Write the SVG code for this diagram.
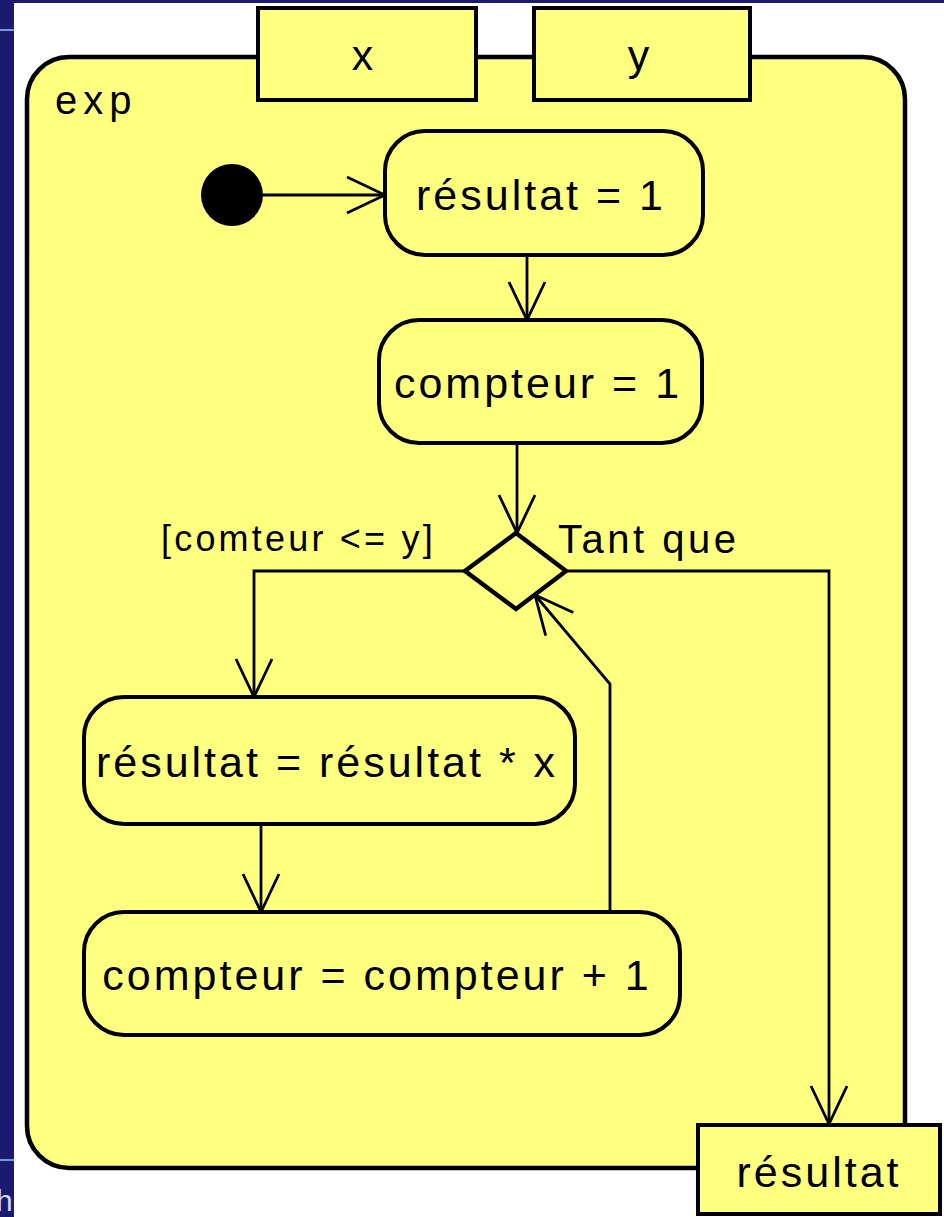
<svg xmlns="http://www.w3.org/2000/svg" width="944" height="1217" viewBox="0 0 944 1217">
  <style>
    .box { fill: #ffff80; stroke: #000; stroke-width: 4; }
    .frame { fill: #ffff80; stroke: #000; stroke-width: 4.5; }
    .pin { fill: #ffff80; stroke: #000; stroke-width: 4; }
    .edge { fill: none; stroke: #000; stroke-width: 2.8; marker-end: url(#open); }
    .lbl { font-family: "Liberation Sans", Arial, Helvetica, sans-serif; fill: #000; }
    .act { font-size: 43px; letter-spacing: 3px; text-anchor: middle; }
    .guard { font-size: 36px; letter-spacing: 3.2px; }
  </style>
  <defs>
    <marker id="open" markerUnits="userSpaceOnUse" markerWidth="46" markerHeight="46" viewBox="-44 -23 46 46" refX="0" refY="0" orient="auto">
      <path d="M-38,-18 L0,0 L-38,18" fill="none" stroke="#000" stroke-width="2.8"/>
    </marker>
    <clipPath id="strip">
      <rect x="0" y="0" width="14" height="1217"/>
    </clipPath>
  </defs>

  <!-- page background and slide edge -->
  <rect x="0" y="0" width="944" height="1217" fill="#ffffff"/>
  <rect x="0" y="0" width="944" height="3" fill="#1a1a6e"/>
  <rect x="0" y="0" width="14" height="1217" fill="#1a1a6e"/>
  <rect x="0" y="29" width="14" height="2" fill="#6f9fd8"/>
  <rect x="0" y="1159" width="14" height="2" fill="#6f9fd8"/>
  <text x="-4" y="1211" clip-path="url(#strip)" font-family="'Liberation Sans', Arial, sans-serif" font-size="30" fill="#d4d8ee">he</text>

  <!-- activity frame -->
  <g id="activity-exp">
    <rect class="frame" x="27" y="57" width="878" height="1111" rx="42" ry="42"/>
    <text class="lbl" x="55" y="114" font-size="40" letter-spacing="6">exp</text>
  </g>

  <!-- parameter pins -->
  <g id="pin-x">
    <rect class="pin" x="258" y="8" width="218" height="92"/>
    <text class="lbl act" x="364" y="70">x</text>
  </g>
  <g id="pin-y">
    <rect class="pin" x="534" y="8" width="216" height="92"/>
    <text class="lbl act" x="640" y="70">y</text>
  </g>

  <!-- initial node -->
  <g id="initial">
    <circle cx="232" cy="195" r="31" fill="#000"/>
  </g>

  <!-- actions -->
  <g id="init-resultat">
    <rect class="box" x="385" y="131" width="318" height="124" rx="40" ry="40"/>
    <text class="lbl act" x="541" y="210">résultat = 1</text>
  </g>
  <g id="init-compteur">
    <rect class="box" x="379" y="320" width="323" height="123" rx="40" ry="40"/>
    <text class="lbl act" x="538" y="398">compteur = 1</text>
  </g>

  <g id="decision">
    <polygon points="516,533 566,571 516,609 465,571" fill="#ffff80" stroke="#000" stroke-width="4.5" stroke-linejoin="miter"/>
  </g>

  <g id="mult-resultat">
    <rect class="box" x="84" y="697" width="491" height="127" rx="40" ry="40"/>
    <text class="lbl act" x="327" y="777">résultat = résultat * x</text>
  </g>
  <g id="incr-compteur">
    <rect class="box" x="84" y="912" width="596" height="123" rx="40" ry="40"/>
    <text class="lbl act" x="377" y="990">compteur = compteur + 1</text>
  </g>

  <!-- connectors -->
  <g id="connectors">
    <path class="edge" d="M263,195 H385"/>
    <path class="edge" d="M527,255 V320"/>
    <path class="edge" d="M517,443 V533"/>
    <path class="edge" d="M465,571 H254 V697"/>
    <path class="edge" d="M566,571 H829 V1124"/>
    <path class="edge" d="M261,824 V912"/>
    <path class="edge" d="M610,912 V684 L535,595"/>
    <text class="lbl guard" x="161" y="551">[comteur &lt;= y]</text>
    <text class="lbl" x="558" y="553" font-size="40" letter-spacing="3.5">Tant que</text>
  </g>

  <!-- output pin -->
  <g id="pin-resultat">
    <rect class="pin" x="698" y="1125" width="242" height="89"/>
    <text class="lbl act" x="819" y="1187">résultat</text>
  </g>
</svg>
